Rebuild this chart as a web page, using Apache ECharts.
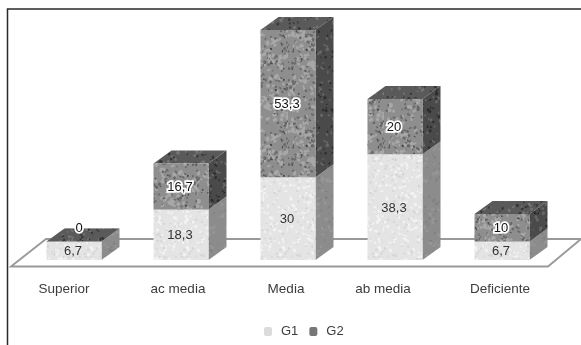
<!DOCTYPE html>
<html><head><meta charset="utf-8">
<style>html,body{margin:0;padding:0;background:#fff}#c{width:581px;height:345px;filter:blur(0.45px)}</style>
<script src="https://cdn.jsdelivr.net/npm/echarts@6/dist/echarts.min.js"></script>
</head><body><div id="c"></div>
<script>
const categories = ['Superior','ac media','Media','ab media','Deficiente'];
const g1Values = [6.7,18.3,30,38.3,6.7];
const g2Values = [0,16.7,53.3,20,10];
const labelShift = [20,6,4,24,4];

function texture(base, blobs, seed){
  const s=96, cv=document.createElement('canvas'); cv.width=cv.height=s;
  const x=cv.getContext('2d');
  x.fillStyle=base; x.fillRect(0,0,s,s);
  x.filter='blur(0.6px)';
  let r=seed;
  const next=()=>{r=(r*1103515245+12345)&0x7fffffff;return r/0x7fffffff;};
  blobs.forEach(b=>{
    x.fillStyle=b[0];
    for(let i=0;i<b[1];i++){
      x.beginPath();
      x.ellipse(next()*s,next()*s,b[2]*(0.5+next()),b[2]*(0.5+next()),next()*3,0,7);
      x.fill();
    }
  });
  return {image:cv,repeat:'repeat'};
}
const skins = {
  G1:{front:texture('#e4e4e4',[['#f2f2f2',300,1.3],['#d6d6d6',220,1]],7),
      side:texture('#8c8c8c',[['#969696',120,1.5],['#828282',120,1.2]],11),
      top:texture('#c8c8c8',[['#dddddd',100,1.5]],13)},
  G2:{front:texture('#8e8e8e',[['#a8a8a8',300,1.7],['#686868',220,1.2],['#4a4a4a',70,0.9]],17),
      side:texture('#4a4a4a',[['#666666',170,1.3],['#2c2c2c',170,1.1]],19),
      top:texture('#5a5a5a',[['#767676',170,1.3],['#363636',170,1.1]],23)}
};
const depthX=18, depthY=-13;
const labelFont='13px "Liberation Sans",Arial,sans-serif';

function barRenderer(skin, halo){
  return function(params, api){
    const i=api.value(0), low=api.value(1), high=api.value(2), val=api.value(3);
    const b=api.coord([i,low]), t=api.coord([i,high]);
    const w=api.size([1,0])[0]*0.514;
    const x0=b[0]-w/2, x1=b[0]+w/2, yb=b[1], yt=t[1];
    const poly=(pts,fill)=>({type:'polygon',shape:{points:pts},style:{fill:fill}});
    const cy = val===0 ? yt-13 : (yb+yt)/2+1;
    const cx = val===0 ? b[0]+5 : b[0]-1;
    const txt=String(val).replace('.',',');
    const base={text:txt,x:cx,y:cy,align:'center',verticalAlign:'middle',font:labelFont};
    const kids=[
      poly([[x1,yt],[x1+depthX,yt+depthY],[x1+depthX,yb+depthY],[x1,yb]],skin.side),
      poly([[x0,yt],[x1,yt],[x1+depthX,yt+depthY],[x0+depthX,yt+depthY]],skin.top),
      poly([[x0,yb],[x1,yb],[x1,yt],[x0,yt]],skin.front)
    ];
    if(halo) kids.push({type:'text',z2:10,silent:true,style:Object.assign({},base,{fill:'#fff',stroke:'#fff',lineWidth:3.5})});
    kids.push({type:'text',z2:11,style:Object.assign({},base,{fill:halo?'#111':'#333'})});
    return {type:'group',children:kids};
  };
}
const g1Data=categories.map((c,i)=>[i,0,g1Values[i],g1Values[i]]);
const g2Data=categories.map((c,i)=>[i,g1Values[i],g1Values[i]+g2Values[i],g2Values[i]]);
const rich={};
labelShift.forEach((p,i)=>{rich['c'+i]={padding:[0,p,0,0],fontSize:13.5,color:'#3c3c3c',fontFamily:'"Liberation Sans",Arial,sans-serif'};});

const chart=echarts.init(document.getElementById('c'),null,{renderer:'canvas'});
chart.setOption({
  animation:false,
  backgroundColor:'#fff',
  grid:{left:20.5,width:535,top:11.6,height:248.4},
  xAxis:{type:'category',data:categories,axisLine:{show:false},axisTick:{show:false},splitLine:{show:false},
    axisLabel:{margin:22,interval:0,formatter:(v,i)=>'{c'+i+'|'+v+'}',rich:rich}},
  yAxis:{type:'value',min:0,max:90,show:false},
  legend:{data:['G1','G2'],left:259,top:320,itemWidth:8,itemHeight:9,itemGap:11,
    textStyle:{fontSize:13,color:'#3c3c3c',fontFamily:'"Liberation Sans",Arial,sans-serif',padding:[0,0,0,4]}},
  graphic:[
    {type:'polyline',z:-1,shape:{points:[[7.5,345],[7.5,9],[581,9]]},style:{fill:null,stroke:'#2a2a2a',lineWidth:1.5}},
    {type:'polygon',z:-1,shape:{points:[[11,266.5],[46,239],[581,239],[548,266.5]]},style:{fill:'#fff',stroke:'#999',lineWidth:1.8}}
  ],
  series:[
    {name:'G1',type:'custom',renderItem:barRenderer(skins.G1,false),data:g1Data,encode:{x:0,y:[1,2]},clip:false,itemStyle:{color:'#dcdcdc'}},
    {name:'G2',type:'custom',renderItem:barRenderer(skins.G2,true),data:g2Data,encode:{x:0,y:[1,2]},clip:false,itemStyle:{color:'#777'}}
  ]
});
</script></body></html>
